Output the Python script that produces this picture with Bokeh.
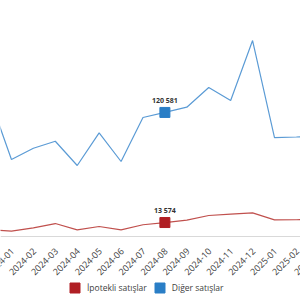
import math
from bokeh.plotting import figure
from bokeh.models import Range1d, FixedTicker, Legend, LegendItem, ColumnDataSource
from bokeh.core.properties import value
from bokeh.embed import file_html
from bokeh.resources import INLINE

months = ["2023-12", "2024-01", "2024-02", "2024-03", "2024-04", "2024-05", "2024-06",
          "2024-07", "2024-08", "2024-09", "2024-10", "2024-11", "2024-12", "2025-01",
          "2025-02", "2025-03"]
ipotekli = [6500, 5200, 8400, 12600, 6500, 9700, 6500, 11400, 13574, 16000, 20400,
            21800, 23000, 16200, 16300, 16500]
diger = [135000, 74800, 85800, 92600, 69000, 100800, 72900, 115700, 120581, 125700,
         144800, 132200, 190500, 96200, 96700, 98000]
series_names = ["İpotekli satışlar", "Diğer satışlar"]
highlight_month = "2024-08"

RED_LINE = "#c0504d"
RED_MARK = "#b01f24"
BLUE_LINE = "#5b9bd5"
BLUE_MARK = "#2a7ec6"
FONT = "Open Sans"

x = list(range(len(months)))
hi = months.index(highlight_month)

p = figure(width=300, height=300, output_backend="svg", toolbar_location=None,
           x_range=Range1d(0.5, 0.5 + 300 / 21.92), y_range=Range1d(-62208, 229392),
           min_border=0, outline_line_color=None)
p.yaxis.visible = False
p.grid.visible = False

ax = p.xaxis[0]
ax.fixed_location = 0
ax.ticker = FixedTicker(ticks=x)
ax.major_label_text_color = None
ax.axis_line_color = "#d9d9d9"
ax.major_tick_line_color = None
ax.minor_tick_line_color = None
ax.major_tick_out = 0
ax.major_tick_in = 0

# category tick labels, rotated, ending at each tick
tick_src = ColumnDataSource(dict(x=x, y=[0] * len(x), t=months))
p.text(x="x", y="y", text="t", source=tick_src, angle=math.pi / 4,
       text_align="right", text_baseline="middle", x_offset=1, y_offset=13,
       text_font=value(FONT), text_font_size="9px", text_color="#404040")

p.line(x, ipotekli, line_color=RED_LINE, line_width=1.2)
p.line(x, diger, line_color=BLUE_LINE, line_width=1.2)

rm = p.scatter([x[hi]], [ipotekli[hi]], marker="square", size=10,
               fill_color=RED_MARK, line_color=RED_MARK)
bm = p.scatter([x[hi]], [diger[hi]], marker="square", size=10,
               fill_color=BLUE_MARK, line_color=BLUE_MARK)

def fmt(v):
    return f"{v:,}".replace(",", " ")

lab = ColumnDataSource(dict(x=[x[hi], x[hi]], y=[ipotekli[hi], diger[hi]],
                            t=[fmt(ipotekli[hi]), fmt(diger[hi])]))
p.text(x="x", y="y", text="t", source=lab, text_align="center", text_baseline="middle",
       y_offset=-12, text_font=value(FONT), text_font_style="bold",
       text_font_size="7px", text_color="#333333")

legend = Legend(items=[LegendItem(label=series_names[0], renderers=[rm]),
                       LegendItem(label=series_names[1], renderers=[bm])],
                orientation="horizontal", location=(62, 0),
                glyph_width=25, glyph_height=25, label_standoff=-4, spacing=0,
                padding=0, margin=0, border_line_color=None, background_fill_alpha=0,
                label_text_font=FONT, label_text_font_size="8.5px",
                label_text_color="#404040")
p.add_layout(legend)

open("out.html", "w").write(file_html(p, INLINE))
